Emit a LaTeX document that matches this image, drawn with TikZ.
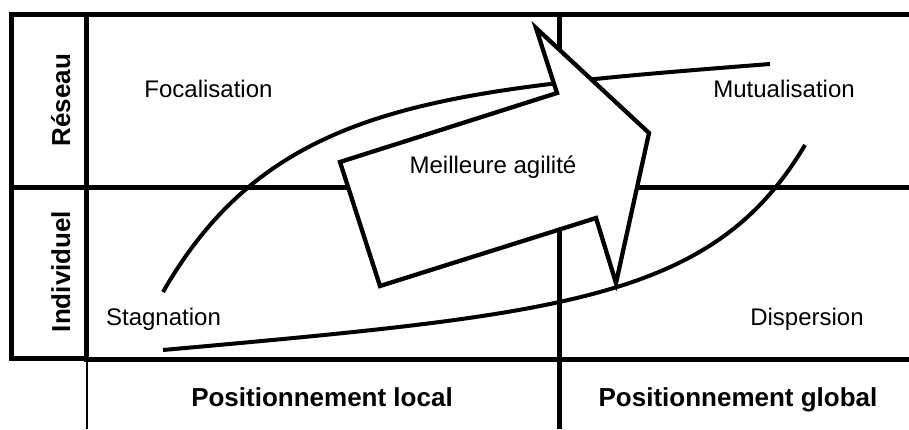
\documentclass[tikz,border=0pt]{standalone}
\usepackage{fontspec}
\setmainfont{Liberation Sans}
\begin{document}
\begin{tikzpicture}[x=1pt,y=-1pt,
  gridline/.style={line width=5pt},
  thinline/.style={line width=2pt},
  trend/.style={line width=4pt},
  bigarrow/.style={line width=4.3pt, line join=miter, fill=white, draw=black},
  celltext/.style={font=\fontsize{24}{28}\selectfont, anchor=base, inner sep=0pt},
  axistext/.style={font=\fontsize{26}{30}\selectfont\bfseries, anchor=base, inner sep=0pt}]
  \useasboundingbox (0,0) rectangle (909,429);

  % row labels column
  \draw[gridline] (11.5,14.5) rectangle (86.5,358.5);
  % outer grid
  \draw[gridline] (11.5,14.5) -- (909,14.5);
  \draw[gridline] (11.5,187.5) -- (909,187.5);
  \draw[gridline] (86.5,359.5) -- (909,359.5);
  \draw[gridline] (86.5,14.5) -- (86.5,361.5);
  \draw[thinline] (87,361) -- (87,429);
  \draw[gridline] (559,14.5) -- (559,429);

  % trend curves
  \draw[trend] (163,292) .. controls (272,102) and (440,90) .. (770,64);
  \draw[trend] (163,350) .. controls (563,314) and (713,300) .. (805,145);

  % central arrow
  \draw[bigarrow] (340,162) -- (557,93) -- (536,28) -- (649,133)
    -- (616,283) -- (596,218) -- (380,286) -- cycle;

  % quadrant labels
  \node[celltext] (focal) at (208.5,97) {Focalisation};
  \node[celltext] (mutual) at (784,97) {Mutualisation};
  \node[celltext] (agil) at (493,173) {Meilleure agilité};
  \node[celltext] (stag) at (163.5,325) {Stagnation};
  \node[celltext] (disp) at (807,325) {Dispersion};

  % axis labels
  \node[axistext] (local) at (322,406) {Positionnement local};
  \node[axistext] (global) at (738,406) {Positionnement global};
  \node[axistext, rotate=90] (reseau) at (70,100) {Réseau};
  \node[axistext, rotate=90] (indiv) at (70,271.5) {Individuel};
\end{tikzpicture}
\end{document}
